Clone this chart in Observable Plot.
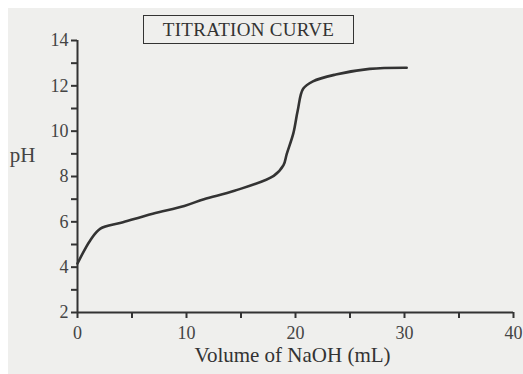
<!DOCTYPE html>
<html>
<head>
<meta charset="utf-8">
<script src="https://cdn.jsdelivr.net/npm/d3@7"></script>
<script src="https://cdn.jsdelivr.net/npm/@observablehq/plot@0.6"></script>
<style>
  html, body { margin: 0; padding: 0; background: #ffffff; }
  #wrap { position: relative; width: 523px; height: 374px; overflow: hidden; }
  #paper { position: absolute; left: 8px; top: 8px; right: 0; bottom: 0; background: #efefed; }
  #chart { position: absolute; left: 0; top: 0; }
  #chart svg, #chart svg g, #chart svg text { font-family: "Liberation Serif", "DejaVu Serif", serif !important; font-variant: normal !important; }
  #title {
    position: absolute; left: 143px; top: 15px; width: 209px; height: 27px;
    border: 1.5px solid #333; box-sizing: content-box;
    font-family: "Liberation Serif", "DejaVu Serif", serif; font-size: 19px;
    color: #333; text-align: center; line-height: 28px; letter-spacing: 0.3px;
  }
</style>
</head>
<body>
<div id="wrap">
  <div id="paper"></div>
  <div id="chart"></div>
  <div id="title">TITRATION CURVE</div>
</div>
<script>
// Data
const volume = [0, 1.15, 2.1, 4.0, 6.9, 9.8, 11.6, 14.4, 18.0, 18.9, 19.2, 19.8, 20.2, 20.7, 21.6, 23.7, 26.8, 30.2];
const pH     = [4.16, 5.17, 5.7, 5.96, 6.36, 6.7, 7.0, 7.37, 8.03, 8.5, 9.0, 9.9, 10.9, 11.87, 12.2, 12.5, 12.75, 12.8];
const xMajorTicks = [0, 10, 20, 30, 40];
const xMinorTicks = [5, 15, 25, 35];
const yMajorTicks = [2, 4, 6, 8, 10, 12, 14];
const yMinorTicks = [3, 5, 7, 9, 11, 13];
const xLabel = "Volume of NaOH (mL)";
const yLabel = "pH";

const data = volume.map((v, i) => ({volume: v, pH: pH[i]}));
const ink = "#333";
const font = "Liberation Serif, DejaVu Serif, serif";
const blank = () => "";

const chart = Plot.plot({
  width: 523,
  height: 374,
  marginLeft: 77,
  marginRight: 10,
  marginTop: 40,
  marginBottom: 62,
  style: {background: "transparent", fontFamily: font, fontSize: "18px", color: "#444"},
  x: {domain: [0, 40]},
  y: {domain: [2, 14]},
  marks: [
    Plot.ruleX([0], {stroke: ink, strokeWidth: 2}),
    Plot.ruleY([2], {stroke: ink, strokeWidth: 2}),
    Plot.axisX({ticks: xMinorTicks, tickSize: 6, stroke: ink, strokeWidth: 2, tickFormat: blank, label: null}),
    Plot.axisX({ticks: xMajorTicks, tickSize: 6, tickPadding: 8, stroke: ink, strokeWidth: 2, fontSize: 18, fontFamily: font, fill: "#444", label: null}),
    Plot.axisY({ticks: yMinorTicks, tickSize: 6, stroke: ink, strokeWidth: 2, tickFormat: blank, label: null}),
    Plot.axisY({ticks: yMajorTicks, tickSize: 6, tickPadding: 3, stroke: ink, strokeWidth: 2, fontSize: 18, fontFamily: font, fill: "#444", label: null}),
    Plot.text([yLabel], {frameAnchor: "left", dx: -55, dy: -21, fontSize: 21, fontFamily: font, fill: "#444", textAnchor: "middle"}),
    Plot.text([xLabel], {frameAnchor: "bottom", dy: 49, dx: -3, fontSize: 21, fontFamily: font, fill: "#333"}),
    Plot.line(data, {x: "volume", y: "pH", stroke: ink, strokeWidth: 2.6, curve: "catmull-rom"})
  ]
});
document.getElementById("chart").appendChild(chart);
</script>
</body>
</html>
